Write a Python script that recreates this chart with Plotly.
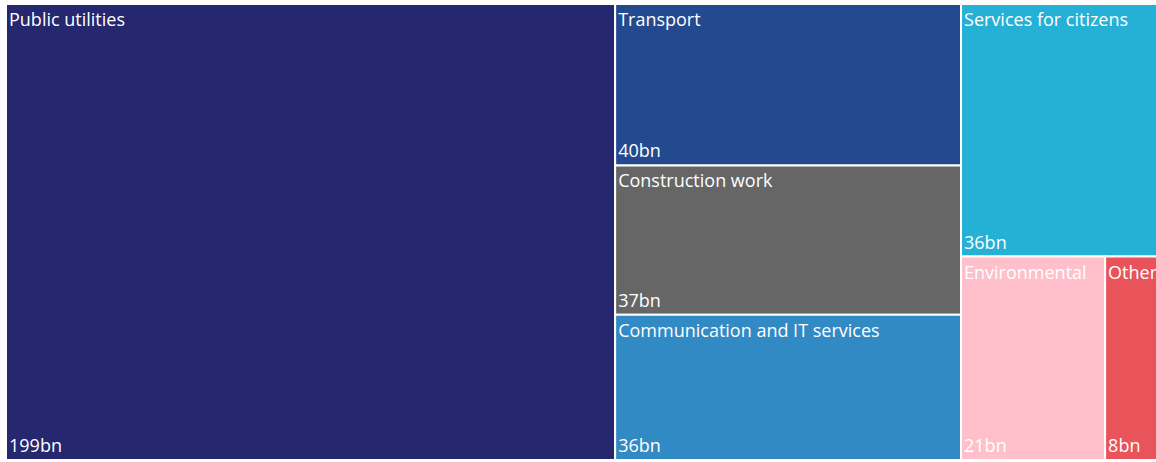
import plotly.graph_objects as go

categories = ["Public utilities", "Transport", "Construction work",
              "Communication and IT services", "Services for citizens",
              "Environmental", "Other"]
values = [199, 40, 37, 36, 36, 21, 8]
colors = ["#25276F", "#234A8F", "#666666", "#318AC4", "#25B0D5", "#FFC0CB", "#E8545A"]
parents = [""] * len(categories)

font = dict(family="'Open Sans', sans-serif", size=18, color="white")

common = dict(
    labels=categories,
    parents=parents,
    values=values,
    sort=False,
    tiling=dict(packing="squarify", squarifyratio=2, pad=0),
    pathbar=dict(visible=False),
    root=dict(color="rgba(0,0,0,0)"),
)

fig = go.Figure()
fig.add_trace(go.Treemap(
    **common,
    marker=dict(colors=colors, line=dict(width=2, color="white"),
                pad=dict(t=0, l=0, r=0, b=0)),
    texttemplate="%{label}",
    textposition="top left",
    textfont=font,
    hoverinfo="label+value",
))
fig.add_trace(go.Treemap(
    **common,
    marker=dict(colors=["rgba(0,0,0,0)"] * len(categories),
                line=dict(width=0, color="rgba(0,0,0,0)"),
                pad=dict(t=0, l=0, r=0, b=0)),
    texttemplate="%{value}bn",
    textposition="bottom left",
    textfont=font,
    hoverinfo="skip",
))

fig.update_layout(
    width=1160, height=462,
    margin=dict(l=6, r=0, t=4, b=2),
    paper_bgcolor="white",
    uniformtext=dict(minsize=18, mode="show"),
)

fig.write_html("out.html",
               config={"displayModeBar": False},
               post_script="document.body.style.margin='0';document.body.style.overflow='hidden';")
